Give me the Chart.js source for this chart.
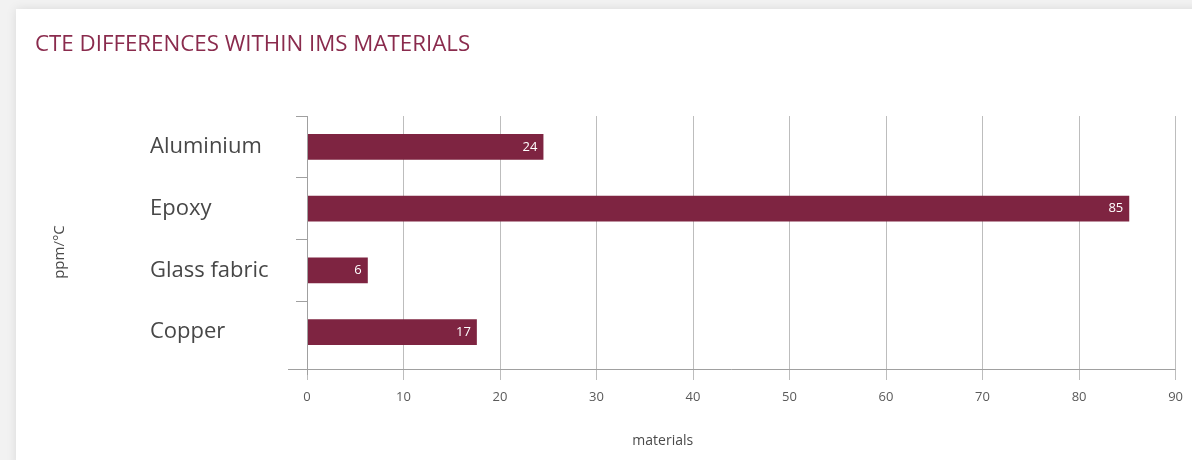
<!DOCTYPE html>
<html>
<head>
<meta charset="utf-8">
<script src="https://cdn.jsdelivr.net/npm/chart.js@4.4.1/dist/chart.umd.min.js"></script>
<style>
  html, body { margin: 0; padding: 0; background: #f2f2f2; }
  #wrap { position: absolute; left: 0; top: 0; width: 1192px; height: 460px; }
</style>
</head>
<body>
<div id="wrap"><canvas id="chart" width="1192" height="460"></canvas></div>
<script>
// ---- data ----
const categories = ['Aluminium', 'Epoxy', 'Glass fabric', 'Copper'];
const cteValues = [24.5, 85.2, 6.3, 17.6];
const valueLabels = ['24', '85', '6', '17'];
const xTickValues = [0, 10, 20, 30, 40, 50, 60, 70, 80, 90];
const chartTitle = 'CTE DIFFERENCES WITHIN IMS MATERIALS';
const xAxisTitle = 'materials';
const yAxisTitle = 'ppm/°C';

// ---- styles ----
const BAR_COLOR = '#7e2441';
const TITLE_COLOR = '#8a2b4d';
const GRID_COLOR = '#bdbdbd';
const AXIS_COLOR = '#a0a0a0';
const LABEL_FONT = "'Open Sans', 'Noto Sans', sans-serif";

Chart.defaults.font.family = LABEL_FONT;

const cardPlugin = {
  id: 'card',
  beforeDraw(chart) {
    const ctx = chart.ctx;
    ctx.save();
    ctx.fillStyle = '#f2f2f2';
    ctx.fillRect(0, 0, chart.width, chart.height);
    ctx.shadowColor = 'rgba(0,0,0,0.10)';
    ctx.shadowBlur = 10;
    ctx.fillStyle = '#ffffff';
    ctx.fillRect(16, 9, chart.width, chart.height);
    ctx.restore();
  }
};

const yLabelShift = {
  id: 'yLabelShift',
  afterLayout(chart) {
    // left-aligned category labels start here
    chart.scales.y.left = 150;
  }
};

const axesPlugin = {
  id: 'axesDecor',
  afterDraw(chart) {
    const ctx = chart.ctx;
    const a = chart.chartArea;
    ctx.save();
    ctx.strokeStyle = AXIS_COLOR;
    ctx.lineWidth = 1;
    ctx.beginPath();
    const yLine = Math.round(a.bottom + 6) + 0.5;
    ctx.moveTo(a.left - 19, yLine);
    ctx.lineTo(a.right, yLine);
    const xLine = Math.round(a.left) + 0.5;
    ctx.moveTo(xLine, a.top);
    ctx.lineTo(xLine, a.bottom + 12);
    ctx.stroke();

    // axis titles
    ctx.fillStyle = '#4a4a4a';
    ctx.font = "14px " + LABEL_FONT;
    ctx.textAlign = 'center';
    ctx.textBaseline = 'middle';
    ctx.fillText(xAxisTitle, (150 + a.right) / 2, 441);
    ctx.translate(60, 252);
    ctx.rotate(-Math.PI / 2);
    ctx.font = "15px " + LABEL_FONT;
    ctx.fillText(yAxisTitle, 0, 0);
    ctx.restore();
  }
};

const valueLabelPlugin = {
  id: 'valueLabels',
  afterDatasetsDraw(chart) {
    const ctx = chart.ctx;
    const meta = chart.getDatasetMeta(0);
    ctx.save();
    ctx.fillStyle = '#ffffff';
    ctx.font = "13px " + LABEL_FONT;
    ctx.textAlign = 'right';
    ctx.textBaseline = 'middle';
    meta.data.forEach((bar, i) => {
      ctx.fillText(valueLabels[i], bar.x - 6, bar.y);
    });
    ctx.restore();
  }
};

new Chart(document.getElementById('chart'), {
  type: 'bar',
  data: {
    labels: categories,
    datasets: [{
      data: cteValues,
      backgroundColor: BAR_COLOR,
      borderWidth: 0,
      barPercentage: 0.42,
      categoryPercentage: 1
    }]
  },
  options: {
    indexAxis: 'y',
    responsive: false,
    animation: false,
    layout: { padding: { left: 35, right: 16, top: 0, bottom: 0 } },
    plugins: {
      legend: { display: false },
      tooltip: { enabled: false },
      title: {
        display: true,
        text: chartTitle,
        align: 'start',
        color: TITLE_COLOR,
        font: { family: LABEL_FONT, size: 22.3, weight: 'normal', lineHeight: 1.1 },
        padding: { top: 32, bottom: 59.5 }
      }
    },
    scales: {
      x: {
        type: 'linear',
        position: 'bottom',
        min: 0,
        max: 90,
        afterBuildTicks(scale) {
          scale.ticks = xTickValues.map(v => ({ value: v }));
        },
        afterFit(scale) { scale.height = 97; },
        border: { display: false },
        grid: { color: GRID_COLOR, tickLength: 17, tickColor: GRID_COLOR },
        ticks: { color: '#5a5a5a', font: { size: 13 }, padding: 9 }
      },
      y: {
        type: 'category',
        position: 'left',
        offset: true,
        afterFit(scale) { scale.width = 272; },
        border: { display: false },
        grid: {
          offset: true,
          drawOnChartArea: false,
          tickLength: 11,
          color: (c) => c.type === 'tick' ? AXIS_COLOR : 'rgba(0,0,0,0)'
        },
        ticks: { crossAlign: 'far', color: '#474747', font: { size: 22 } }
      }
    }
  },
  plugins: [cardPlugin, yLabelShift, axesPlugin, valueLabelPlugin]
});
</script>
</body>
</html>
